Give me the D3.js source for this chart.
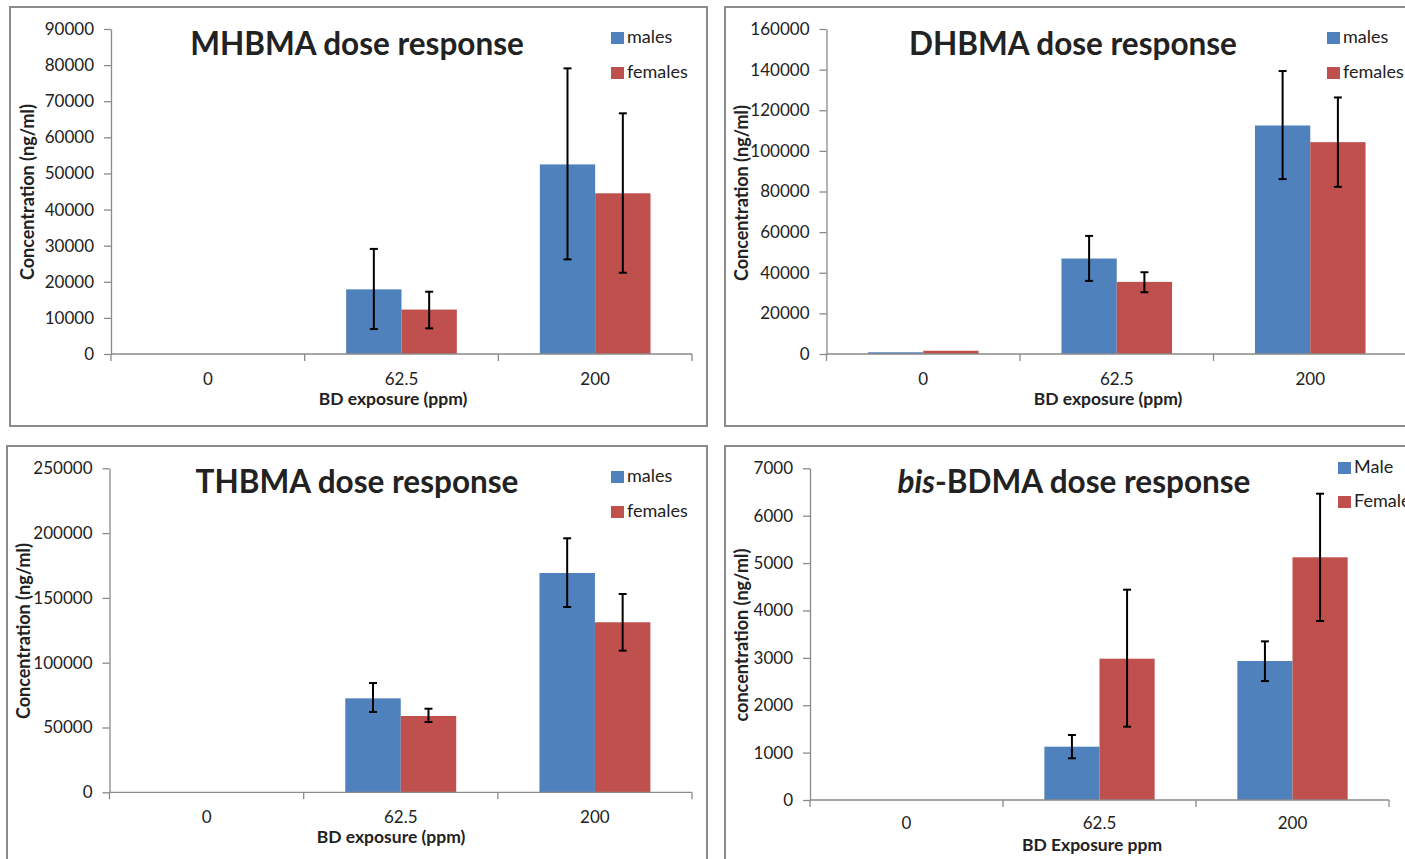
<!DOCTYPE html>
<html><head><meta charset="utf-8">
<script src="https://cdn.jsdelivr.net/npm/d3@7"></script>
<style>body{margin:0;background:#fff;overflow:hidden}svg{display:block}text{font-family:Lato,"Open Sans",sans-serif;fill:#222}</style>
</head><body><svg id="c" width="1405" height="859"></svg>
<script>
// ---- data ----
const categories = ["0", "62.5", "200"];
const seriesNamesLower = ["males", "females"];
const seriesNamesBis = ["Male", "Female"];

const mhbmaMales = [0, 17900, 52500];
const mhbmaMalesLow = [null, 6900, 26200];
const mhbmaMalesHigh = [null, 29100, 79100];
const mhbmaFemales = [0, 12300, 44500];
const mhbmaFemalesLow = [null, 7100, 22500];
const mhbmaFemalesHigh = [null, 17250, 66650];
const mhbmaTicks = [0, 10000, 20000, 30000, 40000, 50000, 60000, 70000, 80000, 90000];

const dhbmaMales = [850, 47000, 112500];
const dhbmaMalesLow = [null, 36000, 86100];
const dhbmaMalesHigh = [null, 58150, 139300];
const dhbmaFemales = [1600, 35500, 104300];
const dhbmaFemalesLow = [null, 30400, 82300];
const dhbmaFemalesHigh = [null, 40250, 126300];
const dhbmaTicks = [0, 20000, 40000, 60000, 80000, 100000, 120000, 140000, 160000];

const thbmaMales = [0, 72500, 169200];
const thbmaMalesLow = [null, 62000, 143000];
const thbmaMalesHigh = [null, 84300, 196000];
const thbmaFemales = [0, 58900, 131200];
const thbmaFemalesLow = [null, 54200, 109300];
const thbmaFemalesHigh = [null, 64500, 153000];
const thbmaTicks = [0, 50000, 100000, 150000, 200000, 250000];

const bisMales = [0, 1125, 2933];
const bisMalesLow = [null, 880, 2510];
const bisMalesHigh = [null, 1372, 3348];
const bisFemales = [0, 2982, 5122];
const bisFemalesLow = [null, 1547, 3777];
const bisFemalesHigh = [null, 4438, 6464];
const bisTicks = [0, 1000, 2000, 3000, 4000, 5000, 6000, 7000];

const colors = ["#4F81BD", "#C0504D"];

// ---- panels ----
const panels = [
  {title:[{t:"MHBMA dose response"}], yLabel:"Concentration (ng/ml)", xLabel:"BD exposure (ppm)", names:seriesNamesLower,
   vals:[mhbmaMales, mhbmaFemales], lo:[mhbmaMalesLow, mhbmaFemalesLow], hi:[mhbmaMalesHigh, mhbmaFemalesHigh], ticks:mhbmaTicks,
   frame:[10,7,697,419], plot:[111,29,692,354], tpos:[357,55], ypos:[29,192], xpos:[393,405], catY:385, leg:[611,38,73]},
  {title:[{t:"DHBMA dose response"}], yLabel:"Concentration (ng/ml)", xLabel:"BD exposure (ppm)", names:seriesNamesLower,
   vals:[dhbmaMales, dhbmaFemales], lo:[dhbmaMalesLow, dhbmaFemalesLow], hi:[dhbmaMalesHigh, dhbmaFemalesHigh], ticks:dhbmaTicks,
   frame:[725,7,700,419], plot:[826.5,29,1407,354], tpos:[1073,55], ypos:[743,193], xpos:[1108,405], catY:385, leg:[1327,38,73]},
  {title:[{t:"THBMA dose response"}], yLabel:"Concentration (ng/ml)", xLabel:"BD exposure (ppm)", names:seriesNamesLower,
   vals:[thbmaMales, thbmaFemales], lo:[thbmaMalesLow, thbmaFemalesLow], hi:[thbmaMalesHigh, thbmaFemalesHigh], ticks:thbmaTicks,
   frame:[7,446,700,430], plot:[109.5,468.3,692,792.3], tpos:[357,493], ypos:[25,631], xpos:[391,843], catY:823, leg:[611,477,512]},
  {title:[{t:"bis", i:true},{t:"-BDMA dose response"}], yLabel:"concentration (ng/ml)", xLabel:"BD Exposure ppm", names:seriesNamesBis,
   vals:[bisMales, bisFemales], lo:[bisMalesLow, bisFemalesLow], hi:[bisMalesHigh, bisFemalesHigh], ticks:bisTicks,
   frame:[725,446,700,430], plot:[810,468.3,1389,800], tpos:[1074,493], ypos:[743,635], xpos:[1092,851], catY:829, leg:[1338,468,502]}
];

const svg = d3.select("#c");
const axisColor = "#8a8a8a";

panels.forEach(p => {
  const g = svg.append("g");
  const [fx, fy, fw, fh] = p.frame;
  g.append("rect").attr("x", fx).attr("y", fy).attr("width", fw).attr("height", fh)
    .attr("fill", "#fff").attr("stroke", "#8c8c8c").attr("stroke-width", 2);

  const [x0, y1, x1, y0] = p.plot;
  const x = d3.scaleBand().domain(categories).range([x0, x1]).paddingInner(0).paddingOuter(0);
  const xs = d3.scaleBand().domain([0, 1]).range([0, x.bandwidth()]).paddingInner(0).paddingOuter(0.75);
  const y = d3.scaleLinear().domain([0, d3.max(p.ticks)]).range([y0, y1]);

  // y axis
  const ya = g.append("g").attr("transform", `translate(${x0},0)`)
    .call(d3.axisLeft(y).tickValues(p.ticks).tickFormat(d3.format("d")).tickSizeInner(7).tickSizeOuter(0).tickPadding(10));
  ya.select(".domain").attr("stroke", axisColor).attr("stroke-width", 1.3);
  ya.selectAll(".tick line").attr("stroke", axisColor).attr("stroke-width", 1.3);
  ya.selectAll(".tick text").style("font-size", "17px").attr("fill", "#333");

  // bars
  p.vals.forEach((vals, si) => {
    g.selectAll(null).data(categories).enter().append("rect")
      .attr("x", c => x(c) + xs(si))
      .attr("y", (c, i) => y(vals[i]))
      .attr("width", xs.bandwidth())
      .attr("height", (c, i) => y(0) - y(vals[i]))
      .attr("fill", colors[si]);
  });

  // x axis
  g.append("line").attr("x1", x0).attr("x2", x1).attr("y1", y0).attr("y2", y0)
    .attr("stroke", axisColor).attr("stroke-width", 1.3);
  const bounds = categories.map(c => x(c)).concat([x(categories[categories.length - 1]) + x.bandwidth()]);
  g.selectAll(null).data(bounds).enter().append("line")
    .attr("x1", d => d).attr("x2", d => d).attr("y1", y0).attr("y2", y0 + 7)
    .attr("stroke", axisColor).attr("stroke-width", 1.3);
  g.selectAll(null).data(categories).enter().append("text")
    .attr("x", c => x(c) + x.bandwidth() / 2).attr("y", p.catY)
    .attr("text-anchor", "middle").style("font-size", "17px").attr("fill", "#333").text(c => c);

  // error bars
  p.vals.forEach((vals, si) => {
    categories.forEach((c, i) => {
      const lo = p.lo[si][i], hi = p.hi[si][i];
      if (lo == null || hi == null) return;
      const cx = x(c) + xs(si) + xs.bandwidth() / 2;
      const eg = g.append("g").attr("stroke", "#000").attr("stroke-width", 2);
      eg.append("line").attr("x1", cx).attr("x2", cx).attr("y1", y(lo)).attr("y2", y(hi));
      eg.append("line").attr("x1", cx - 4).attr("x2", cx + 4).attr("y1", y(lo)).attr("y2", y(lo));
      eg.append("line").attr("x1", cx - 4).attr("x2", cx + 4).attr("y1", y(hi)).attr("y2", y(hi));
    });
  });

  // title
  const tt = g.append("text").attr("x", p.tpos[0]).attr("y", p.tpos[1]).attr("text-anchor", "middle")
    .style("font-size", "31.5px").style("font-weight", "bold").attr("fill", "#000");
  p.title.forEach(s => {
    const ts = tt.append("tspan").text(s.t);
    if (s.i) ts.style("font-style", "italic");
  });

  // axis titles
  g.append("text").attr("transform", `translate(${p.ypos[0]},${p.ypos[1]}) rotate(-90)`)
    .attr("text-anchor", "middle").attr("dominant-baseline", "middle")
    .style("font-size", "18px").style("font-weight", "bold").attr("fill", "#000").text(p.yLabel);
  g.append("text").attr("x", p.xpos[0]).attr("y", p.xpos[1]).attr("text-anchor", "middle")
    .style("font-size", "17.5px").style("font-weight", "bold").attr("fill", "#000").text(p.xLabel);

  // legend
  p.names.forEach((n, si) => {
    const ly = p.leg[1 + si];
    g.append("rect").attr("x", p.leg[0]).attr("y", ly - 6).attr("width", 13).attr("height", 12).attr("fill", colors[si]);
    g.append("text").attr("x", p.leg[0] + 16).attr("y", ly).attr("dominant-baseline", "middle")
      .style("font-size", "18px").attr("fill", "#222").text(n);
  });
});
</script></body></html>
